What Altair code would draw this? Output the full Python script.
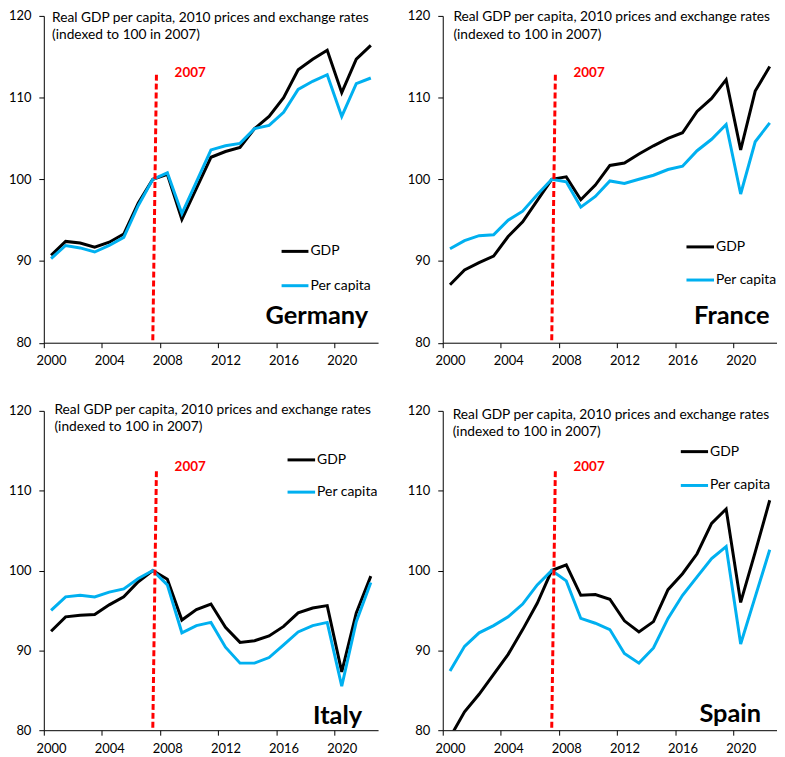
import altair as alt
import pandas as pd

years = list(range(2000, 2023))

germany_gdp = [90.7, 92.4, 92.2, 91.7, 92.3, 93.3, 97.1, 100.0, 100.6, 95.1, 98.9, 102.7,
               103.4, 103.9, 106.2, 107.7, 110.0, 113.4, 114.7, 115.8, 110.6, 114.7, 116.4]
germany_pc = [90.3, 91.9, 91.6, 91.1, 91.9, 92.9, 96.8, 100.0, 100.8, 95.8, 99.7, 103.6,
              104.1, 104.4, 106.2, 106.6, 108.2, 111.0, 112.0, 112.8, 107.7, 111.7, 112.4]

france_gdp = [87.1, 88.9, 89.8, 90.6, 93.0, 94.8, 97.4, 100.0, 100.3, 97.5, 99.3, 101.7,
              102.0, 103.1, 104.1, 105.0, 105.7, 108.3, 109.9, 112.2, 103.6, 110.8, 113.8]
france_pc = [91.5, 92.5, 93.1, 93.2, 95.0, 96.1, 98.1, 100.0, 99.7, 96.6, 97.9, 99.8,
             99.5, 100.0, 100.5, 101.2, 101.6, 103.5, 104.9, 106.7, 98.2, 104.6, 106.9]

italy_gdp = [92.4, 94.2, 94.4, 94.5, 95.7, 96.7, 98.6, 100.0, 98.9, 93.8, 95.1, 95.8,
             92.9, 91.0, 91.2, 91.8, 93.0, 94.7, 95.3, 95.6, 87.3, 94.7, 99.3]
italy_pc = [95.0, 96.7, 96.9, 96.7, 97.3, 97.7, 99.0, 100.0, 98.2, 92.2, 93.1, 93.5,
            90.4, 88.4, 88.4, 89.1, 90.7, 92.3, 93.1, 93.5, 85.5, 93.6, 98.5]

spain_gdp = [79.1, 82.3, 84.5, 87.0, 89.5, 92.6, 95.9, 100.0, 100.7, 96.9, 97.0, 96.4,
             93.7, 92.3, 93.6, 97.6, 99.6, 102.1, 105.9, 107.7, 96.0, 102.3, 108.8]
spain_pc = [87.4, 90.5, 92.2, 93.1, 94.2, 95.8, 98.2, 100.0, 98.7, 94.0, 93.4, 92.6,
            89.6, 88.4, 90.3, 94.0, 96.9, 99.2, 101.5, 103.0, 90.8, 96.7, 102.6]

series_names = ["GDP", "Per capita"]
series_colors = ["#000000", "#00B0F0"]
marker_year = 2007
subtitle = ["Real GDP per capita, 2010 prices and exchange rates", "(indexed to 100 in 2007)"]

FONT = "Lato"
W = 336

# per-panel layout (pixels relative to the plot area)
layouts = {
    "Germany": dict(h=328.5, sub=(8.3, 6.0), leg=(239, 266, 236.7, 271.2), name=(326, 309.7)),
    "France": dict(h=328.5, sub=(10.7, 5.5), leg=(245, 272.7, 232.2, 265.5), name=(328.4, 309.5)),
    "Italy": dict(h=321, sub=(10.7, 2.7), leg=(245, 272.7, 49.3, 81.7), name=(320, 314.3)),
    "Spain": dict(h=321, sub=(10.0, 8.3), leg=(239.3, 266.7, 41.0, 75.0), name=(320, 312.3)),
}


def panel(name, gdp, pc):
    lay = layouts[name]
    h = lay["h"]
    df = pd.DataFrame({
        "year": years * 2,
        "value": gdp + pc,
        "series": [series_names[0]] * len(years) + [series_names[1]] * len(years),
    })
    tick_vals = [1999.5 + 2 * k for k in range(12)]
    xenc = alt.X(
        "year:Q",
        scale=alt.Scale(domain=[1999.5, 2022.5], nice=False, zero=False),
        axis=alt.Axis(
            values=tick_vals,
            labelExpr="((datum.value + 0.5) % 4 == 0) ? format(datum.value + 0.5, 'd') : ''",
            labelOffset=W / 23 / 2,
            labelFlush=False,
            labelOverlap=False,
            tickSize=5,
            labelPadding=7,
            grid=False,
            title=None,
        ),
    )
    yenc = alt.Y(
        "value:Q",
        scale=alt.Scale(domain=[80, 120], nice=False, zero=False),
        axis=alt.Axis(
            values=[80, 90, 100, 110, 120],
            tickSize=5,
            labelPadding=8,
            grid=False,
            title=None,
            minExtent=36,
            maxExtent=36,
        ),
    )
    base = alt.Chart(df)
    l_gdp = base.transform_filter(alt.datum.series == series_names[0]).mark_line(
        strokeWidth=3, clip=True, color=series_colors[0]
    ).encode(x=xenc, y=yenc)
    l_pc = base.transform_filter(alt.datum.series == series_names[1]).mark_line(
        strokeWidth=3, clip=True, color=series_colors[1]
    ).encode(x=xenc, y=yenc)

    mk = pd.DataFrame({"year": [marker_year]})
    rule = alt.Chart(mk).mark_rule(color="#FF0000", strokeWidth=3, strokeDash=[6, 3]).encode(
        x=alt.X("year:Q"),
        x2=alt.datum(marker_year + 0.25),
        y=alt.datum(80.3),
        y2=alt.datum(112.8),
    )
    mk_text = alt.Chart(mk).mark_text(
        color="#FF0000", font=FONT, fontWeight="bold", fontSize=13.5, align="left", baseline="middle"
    ).encode(
        x=alt.datum(marker_year + 1.5),
        y=alt.datum(113.0),
        text=alt.Text("year:Q", format="d"),
    )

    sx, sy = lay["sub"]
    sub = alt.Chart(mk).mark_text(
        font=FONT, fontSize=13.8, align="left", baseline="alphabetic", lineHeight=17.3, color="black"
    ).encode(x=alt.value(sx), y=alt.value(sy), text=alt.value(subtitle))

    lx1, lx2, ly1, ly2 = lay["leg"]
    leg_df = pd.DataFrame({"series": series_names, "ly": [ly1, ly2]})
    leg_lines = alt.Chart(leg_df).mark_rule(strokeWidth=3).encode(
        x=alt.value(lx1),
        x2=alt.value(lx2),
        y=alt.Y("ly:Q", scale=None),
        color=alt.Color("series:N", scale=alt.Scale(domain=series_names, range=series_colors), legend=None),
    )
    leg_text = alt.Chart(leg_df).mark_text(
        font=FONT, fontSize=14, align="left", baseline="middle", color="black"
    ).encode(x=alt.value(lx2 + 2), y=alt.Y("ly:Q", scale=None), text="series:N")

    nx, ny = lay["name"]
    name_text = alt.Chart(mk).mark_text(
        font=FONT, fontSize=25.5, fontWeight="bold", align="right", baseline="alphabetic", color="black"
    ).encode(x=alt.value(nx), y=alt.value(ny), text=alt.value(name))

    return alt.layer(l_gdp, l_pc, rule, mk_text, sub, leg_lines, leg_text, name_text).properties(
        width=W, height=h
    )


top = alt.hconcat(panel("Germany", germany_gdp, germany_pc), panel("France", france_gdp, france_pc), spacing=29)
bottom = alt.hconcat(panel("Italy", italy_gdp, italy_pc), panel("Spain", spain_gdp, spain_pc), spacing=29)

chart = alt.vconcat(top, bottom, spacing=34).properties(
    padding={"left": 0, "top": 0, "right": 0, "bottom": 0}
).configure_view(stroke=None).configure_axis(
    labelFont=FONT,
    labelFontSize=13,
    labelColor="black",
    domainColor="black",
    tickColor="black",
    domainWidth=1,
    tickWidth=1,
)

chart.save("out.html", embed_options={"renderer": "svg", "actions": False})
